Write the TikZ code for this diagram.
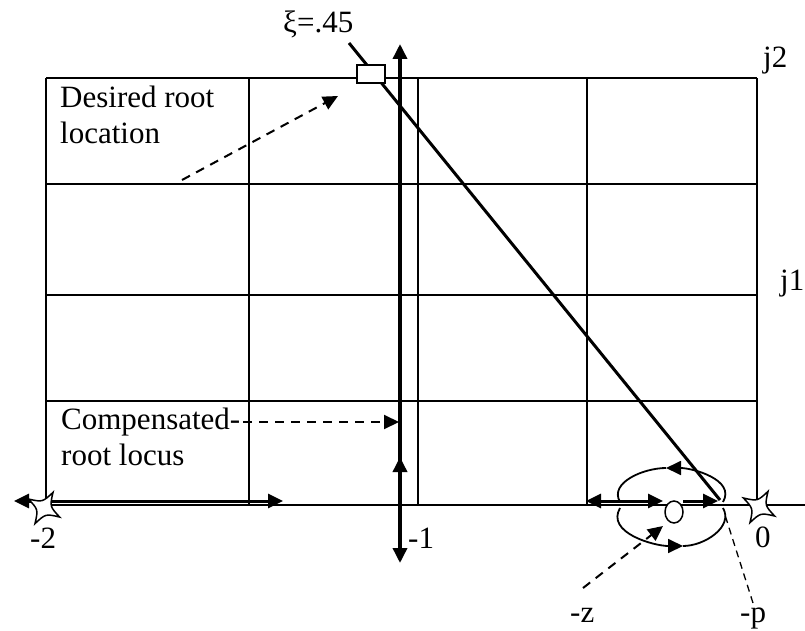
\documentclass[tikz,border=0pt]{standalone}
\usepackage{fontspec}
\setmainfont{Liberation Serif}
\usetikzlibrary{arrows.meta}

\begin{document}
\begin{tikzpicture}[x=1pt,y=1pt,
  gridline/.style={line width=2pt},
  locus/.style={line width=3.5pt},
  lobe/.style={line width=1.8pt},
  tip/.style={-{Triangle[length=15pt,width=14pt]}},
  bothtips/.style={{Triangle[length=15pt,width=14pt]}-{Triangle[length=15pt,width=14pt]}},
  pointer/.style={line width=2pt,dash pattern=on 9pt off 7pt,tip},
  lbl/.style={font=\fontsize{31}{36}\selectfont,inner sep=0pt,align=left},
  polestar/.style={line width=1.5pt,fill=white}]
  \useasboundingbox (0,0) rectangle (805,630);
  % s-plane grid and real axis
  \foreach \x in {46,249,418,587,757}
    \draw[gridline] (\x,125) -- (\x,552);
  \foreach \y in {229,335,446,552}
    \draw[gridline] (46,\y) -- (757,\y);
  \draw[gridline] (46,125) -- (805,125);
  % loci on the real axis
  \draw[line width=3pt,bothtips] (14,129) -- (283,129);
  \draw[line width=3pt,bothtips] (586,129) -- (663,129);
  \draw[line width=3pt,tip] (683,129) -- (718,129);
  % circle round the zero
  \draw[lobe,tip] (723,128) to[out=60,in=0] (666,162);
  \draw[lobe] (666,162) to[out=180,in=120] (620,128);
  \draw[lobe,tip] (620,122) to[out=-120,in=180] (683,84);
  \draw[lobe] (683,84) to[out=0,in=-60] (723,122);
  % damping line
  \coordinate (zetatop) at (349,587);
  \coordinate (polep) at (720,130);
  \draw[line width=3pt] (zetatop) -- (polep);
  \node[draw,fill=white,line width=1.5pt,minimum width=28pt,minimum height=18pt,inner sep=0pt] (desroot) at (371,556) {};
  % compensated locus
  \coordinate (axisone) at (400,125);
  \draw[locus,tip] (axisone) -- (400,586);
  \draw[locus,tip] (axisone) -- (400,67);
  \draw[locus,tip] (axisone) -- (400,173);
  % poles and zero
  \draw[polestar,shift={(44,122)}] (60:18) .. controls (15:6) .. (-30:18)
    .. controls (-75:6) .. (-120:18) .. controls (-165:6) .. (150:18)
    .. controls (105:6) .. (60:18) -- cycle;
  \draw[polestar,shift={(759,123)}] (60:18) .. controls (15:6) .. (-30:18)
    .. controls (-75:6) .. (-120:18) .. controls (-165:6) .. (150:18)
    .. controls (105:6) .. (60:18) -- cycle;
  \draw[line width=1.5pt,fill=white] (674,118) ellipse [x radius=9,y radius=11];
  % labels
  \node[lbl,anchor=north west] (desired) at (60,544) {Desired root\\location};
  \node[lbl,anchor=north west] (comp) at (61,222) {Compensated-\\root locus};
  \node[lbl,anchor=base west] (zetalbl) at (283,597) {ξ=.45};
  \node[lbl,anchor=base west] (jtwo) at (763,562) {j2};
  \node[lbl,anchor=base west] (jone) at (780,340) {j1};
  \node[lbl,anchor=base west] (mtwo) at (30,82) {-2};
  \node[lbl,anchor=base west] (mone) at (408,82) {-1};
  \node[lbl,anchor=base west] (zero) at (755,83) {0};
  \node[lbl,anchor=base west] (mz) at (570,8) {-z};
  \node[lbl,anchor=base west] (mp) at (740,8) {-p};
  % pointers
  \coordinate (desfrom) at (182,450);
  \coordinate (desto) at (338,534);
  \coordinate (compfrom) at (243,208);
  \coordinate (compto) at (399,208);
  \coordinate (zfrom) at (583,42);
  \coordinate (zto) at (663,104);
  \coordinate (pfrom) at (753,27);
  \coordinate (pto) at (725,115);
  \draw[pointer] (desfrom) -- (desto);
  \draw[pointer] (compfrom) -- (compto);
  \draw[pointer] (zfrom) -- (zto);
  \draw[line width=1.3pt,dash pattern=on 7pt off 5pt] (pfrom) -- (pto);
\end{tikzpicture}
\end{document}
